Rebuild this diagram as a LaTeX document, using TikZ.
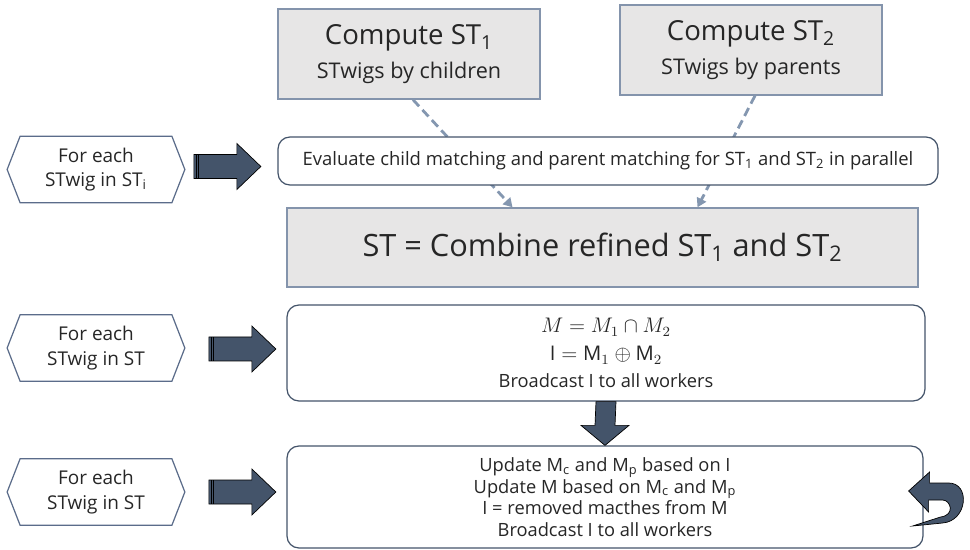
\documentclass[tikz,border=0pt]{standalone}
\usepackage{fontspec}
\setmainfont{Open Sans}
\usetikzlibrary{arrows.meta,positioning,calc}
\newlength{\px}\setlength{\px}{0.02cm}
\definecolor{boxgray}{HTML}{E7E6E6}
\definecolor{boxedge}{HTML}{8494AC}
\definecolor{darkedge}{HTML}{44546A}
\definecolor{hexedge}{HTML}{5B6C8A}
\definecolor{arrowblue}{HTML}{44546A}
\definecolor{dashblue}{HTML}{8497B0}
\tikzset{
  >=Latex,
  graybox/.style  = {draw=boxedge, fill=boxgray, line width=0.8pt, align=center, inner sep=0pt},
  roundbox/.style = {draw=darkedge, fill=white, rounded corners=6.8pt, line width=0.7pt, align=center, inner sep=0pt, font=\fontsize{10.4}{12.3}\selectfont},
  hexbox/.style   = {minimum width=177\px, minimum height=66\px, align=center, inner sep=0pt, font=\fontsize{10.8}{14}\selectfont},
  hexline/.style  = {draw=hexedge, line width=0.7pt},
  dashlink/.style = {draw=dashblue, line width=1.6pt, dash pattern=on 5.1pt off 2.8pt, -{Triangle[length=5.1pt,width=5.7pt]}},
  fatarrow/.style = {fill=arrowblue, draw=black, line width=0.4pt},
  every node/.style = {text=black!85}
}
% block arrow with a striped tail: #1 tail point, #2 rotation
\newcommand{\fatarrow}[2]{%
  \begin{scope}[shift={#1}, rotate=#2]
    \draw[fatarrow] (0,-12) -- (43,-12) -- (43,-23) -- (67,0) -- (43,23) -- (43,12) -- (0,12) -- cycle;
    \draw[black, line width=0.5pt] (2.5,-12) -- (2.5,12) (5,-12) -- (5,12);
  \end{scope}}

\begin{document}
\begin{tikzpicture}[x=\px, y=-\px]
  \useasboundingbox (0,0) rectangle (970,550);

  %  --  Top: the two computations and the combined result
  \node[graybox, minimum width=262\px, minimum height=90\px] (c1) at (409,54)
    {\fontsize{15.7}{18}\selectfont Compute ST\textsubscript{1}\\[5pt]\fontsize{12.3}{14}\selectfont STwigs by children};
  \node[graybox, minimum width=262\px, minimum height=90\px] (c2) at (751,50)
    {\fontsize{15.7}{18}\selectfont Compute ST\textsubscript{2}\\[5pt]\fontsize{12.3}{14}\selectfont STwigs by parents};
  \node[graybox, minimum width=631\px, minimum height=79\px, font=\fontsize{17.5}{20}\selectfont] (comb) at (602.5,247.5)
    {ST = Combine refined ST\textsubscript{1} and ST\textsubscript{2}};

  \draw[dashlink] ($(c1.south)+(4,0)$) -- ($(comb.north)+(-90,0)$);
  \draw[dashlink] ($(c2.south)+(4,0)$) -- ($(comb.north)+(95,0)$);

  %  --  Boxes of the workers
  \node[roundbox, minimum width=660\px, minimum height=48\px, font=\fontsize{10.5}{13}\selectfont] (eval) at (608,161)
    {Evaluate child matching and parent matching for ST\textsubscript{1} and ST\textsubscript{2} in parallel};
  \node[roundbox, minimum width=638\px, minimum height=96\px, font=\fontsize{10.4}{13}\selectfont] (mbox) at (606,353)
    {\fontsize{11.5}{13}\selectfont$M = M_1 \cap M_2$\\[3pt]\fontsize{11.5}{13}\selectfont$\mathrm{I} = \mathrm{M}_1 \oplus \mathrm{M}_2$\\[2pt]Broadcast I to all workers};
  \node[roundbox, minimum width=636\px, minimum height=102\px] (upd) at (605,497)
    {Update M\textsubscript{c} and M\textsubscript{p} based on I\\Update M based on M\textsubscript{c} and M\textsubscript{p}\\I = removed macthes from M\\Broadcast I to all workers};

  %  --  Left: loops over the STwigs
  \node[hexbox] (h1) at (96,169.5) {For each\\STwig in ST\textsubscript{i}};
  \node[hexbox] (h2) at (96,348) {For each\\STwig in ST};
  \node[hexbox] (h3) at (96,492) {For each\\STwig in ST};
  \foreach \h in {h1,h2,h3}{
    \draw[hexline] (\h.west) -- ($(\h.north west)+(13,0)$) -- ($(\h.north east)+(-13,0)$)
      -- (\h.east) -- ($(\h.south east)+(-13,0)$) -- ($(\h.south west)+(13,0)$) -- cycle;
  }

  \fatarrow{($(h1.east)+(9,-3)$)}{0}
  \fatarrow{($(h2.east)+(24,1)$)}{0}
  \fatarrow{($(h3.east)+(24,0)$)}{0}

  % down arrow between the two lower boxes
  \path (mbox.south) coordinate (dtop) (upd.north) coordinate (dtip);
  \draw[fatarrow] ($(dtop)+(-10,0)$) -- ($(dtip)+(-10,-20)$) -- ($(dtip)+(-24,-20)$) -- (dtip)
    -- ($(dtip)+(24,-20)$) -- ($(dtip)+(10,-20)$) -- ($(dtop)+(10,0)$) -- cycle;

  % return arrow at the right of the last box
  \coordinate (ret) at ($(upd.east)+(-15,-6)$);
  \draw[fatarrow] (ret) -- ++(21,-19) -- ++(0,11) -- ++(19,0)
    .. controls ++(22,0) and ++(25,-2) .. ++(-6,40) -- ++(-30,3) -- ++(28,-9)
    .. controls ++(15,-2) and ++(8,0) .. ++(2,-17) -- ++(-14,0) -- ++(0,12) -- cycle;
\end{tikzpicture}
\end{document}
